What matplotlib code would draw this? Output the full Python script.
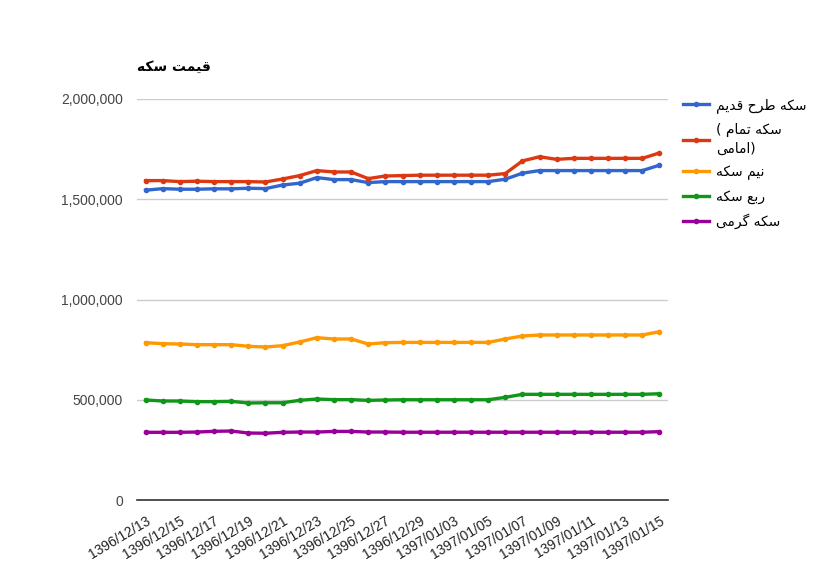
import matplotlib
matplotlib.use("Agg")
import matplotlib.pyplot as plt
from matplotlib.ticker import FuncFormatter

# تاریخ ها
dates = ['1396/12/13', '1396/12/14', '1396/12/15', '1396/12/16', '1396/12/17', '1396/12/18',
         '1396/12/19', '1396/12/20', '1396/12/21', '1396/12/22', '1396/12/23', '1396/12/24',
         '1396/12/25', '1396/12/26', '1396/12/27', '1396/12/28', '1396/12/29',
         '1397/01/02', '1397/01/03', '1397/01/04', '1397/01/05', '1397/01/06', '1397/01/07',
         '1397/01/08', '1397/01/09', '1397/01/10', '1397/01/11', '1397/01/12', '1397/01/13',
         '1397/01/14', '1397/01/15']

# قیمت ها
tarh_ghadim = [1545000, 1553000, 1550000, 1550000, 1552000, 1552000, 1555000, 1553000,
               1571000, 1580000, 1608000, 1598000, 1598000, 1583000, 1588000, 1588000,
               1588000, 1588000, 1588000, 1588000, 1588000, 1600000, 1630000, 1643000,
               1643000, 1643000, 1643000, 1643000, 1643000, 1643000, 1670000]
tamam = [1593000, 1593000, 1588000, 1590000, 1588000, 1588000, 1588000, 1586000,
         1601000, 1618000, 1643000, 1636000, 1636000, 1603000, 1616000, 1618000,
         1620000, 1620000, 1620000, 1620000, 1620000, 1628000, 1691000, 1712000,
         1699000, 1704000, 1704000, 1704000, 1704000, 1704000, 1731000]
nim = [784600, 779700, 778000, 774700, 774700, 774700, 766700, 763000,
       769700, 788000, 809600, 803000, 803000, 778000, 784600, 786000,
       786000, 786000, 786000, 786000, 786000, 803000, 818000, 823000,
       823000, 823000, 823000, 823000, 823000, 823000, 839500]
rob = [498800, 493800, 493800, 490500, 490500, 492000, 483800, 485000,
       485000, 497000, 503800, 500500, 500500, 497000, 498800, 500000,
       500000, 500000, 500000, 500000, 500000, 512000, 527000, 527000,
       527000, 527000, 527000, 527000, 527000, 527000, 530000]
gerami = [337600, 337600, 337600, 339000, 342600, 344000, 334000, 333000,
          337600, 339000, 339000, 342000, 342000, 339000, 339000, 338000,
          338000, 338000, 338000, 338000, 338000, 338000, 338000, 338000,
          338000, 338000, 338000, 338000, 338000, 338000, 341000]

title = 'قیمت سکه'
labels = ['سکه طرح قدیم', 'سکه تمام )\n(امامی', 'نیم سکه', 'ربع سکه', 'سکه گرمی']
colors = ['#3366cc', '#dc3912', '#ff9900', '#109618', '#990099']

# شکل حروف (ایزوله، پایانی، آغازی، میانی)
FORMS = {
    '\u0627': ('\uFE8D', '\uFE8E', None, None),
    '\u0628': ('\uFE8F', '\uFE90', '\uFE91', '\uFE92'),
    '\u062A': ('\uFE95', '\uFE96', '\uFE97', '\uFE98'),
    '\u062D': ('\uFEA1', '\uFEA2', '\uFEA3', '\uFEA4'),
    '\u062F': ('\uFEA9', '\uFEAA', None, None),
    '\u0631': ('\uFEAD', '\uFEAE', None, None),
    '\u0633': ('\uFEB1', '\uFEB2', '\uFEB3', '\uFEB4'),
    '\u0637': ('\uFEC1', '\uFEC2', '\uFEC3', '\uFEC4'),
    '\u0639': ('\uFEC9', '\uFECA', '\uFECB', '\uFECC'),
    '\u0642': ('\uFED5', '\uFED6', '\uFED7', '\uFED8'),
    '\u0645': ('\uFEE1', '\uFEE2', '\uFEE3', '\uFEE4'),
    '\u0646': ('\uFEE5', '\uFEE6', '\uFEE7', '\uFEE8'),
    '\u0647': ('\uFEE9', '\uFEEA', '\uFEEB', '\uFEEC'),
    '\u06A9': ('\uFB8E', '\uFB8F', '\uFB90', '\uFB91'),
    '\u06AF': ('\uFB92', '\uFB93', '\uFB94', '\uFB95'),
    '\u06CC': ('\uFBFC', '\uFBFD', '\uFBFE', '\uFBFF'),
}
MIRROR = {'(': ')', ')': '('}


def fa(text):
    # شکل دادن و برعکس کردن متن فارسی برای نمایش
    lines = []
    for line in text.split('\n'):
        s = line.replace('\u064A', '\u06CC').replace('\u0643', '\u06A9')
        out = []
        for i, ch in enumerate(s):
            if ch not in FORMS:
                out.append(MIRROR.get(ch, ch))
                continue
            prev = s[i - 1] if i > 0 else ''
            nxt = s[i + 1] if i + 1 < len(s) else ''
            jp = prev in FORMS and FORMS[prev][2] is not None
            jn = FORMS[ch][2] is not None and nxt in FORMS
            f = FORMS[ch]
            if jp and jn:
                out.append(f[3])
            elif jp:
                out.append(f[1])
            elif jn:
                out.append(f[2])
            else:
                out.append(f[0])
        lines.append(''.join(out)[::-1])
    return '\n'.join(lines)


plt.rcParams['font.family'] = ['Liberation Sans', 'DejaVu Sans']

fig = plt.figure(figsize=(8.22, 5.83), dpi=100)
ax = fig.add_axes([137 / 822, 1 - 500 / 583, 531 / 822, 401 / 583])

x = list(range(len(dates)))
series = [tarh_ghadim, tamam, nim, rob, gerami]
for vals, lab, c in zip(series, labels, colors):
    ax.plot(x, vals, color=c, lw=2.4, marker='o', ms=3, label=fa(lab),
            solid_joinstyle='round')

ax.set_xlim(-0.5, len(dates) - 0.5)
ax.set_ylim(0, 2000000)
ax.set_yticks([0, 500000, 1000000, 1500000, 2000000])
ax.yaxis.set_major_formatter(FuncFormatter(lambda v, p: f'{int(v):,}'))
ax.grid(axis='y', color='#cccccc', lw=1)
ax.set_axisbelow(True)
for s in ['top', 'right', 'left']:
    ax.spines[s].set_visible(False)
ax.spines['bottom'].set_color('#333333')
ax.spines['bottom'].set_linewidth(1.2)

ax.set_xticks(x[::2])
ax.set_xticklabels(dates[::2], rotation=31, ha='right', rotation_mode='anchor',
                   fontsize=10, color='#222222')
ax.tick_params(axis='x', length=0, pad=10)
ax.tick_params(axis='y', length=0, pad=10, labelsize=10, labelcolor='#444444')

fig.text(137 / 822, 1 - 67 / 583, fa(title), fontsize=10, fontweight='bold',
         family=['DejaVu Sans'], va='center', ha='left')

leg = fig.legend(loc='upper left', bbox_to_anchor=(683 / 822, 1 - 98 / 583), frameon=False,
                 borderpad=0, borderaxespad=0, handlelength=1.9, handletextpad=0.45,
                 labelspacing=0.7, prop={'family': ['DejaVu Sans'], 'size': 10})
for t in leg.get_texts():
    t.set_linespacing(1.45)

fig.savefig('out.png', dpi=100)
